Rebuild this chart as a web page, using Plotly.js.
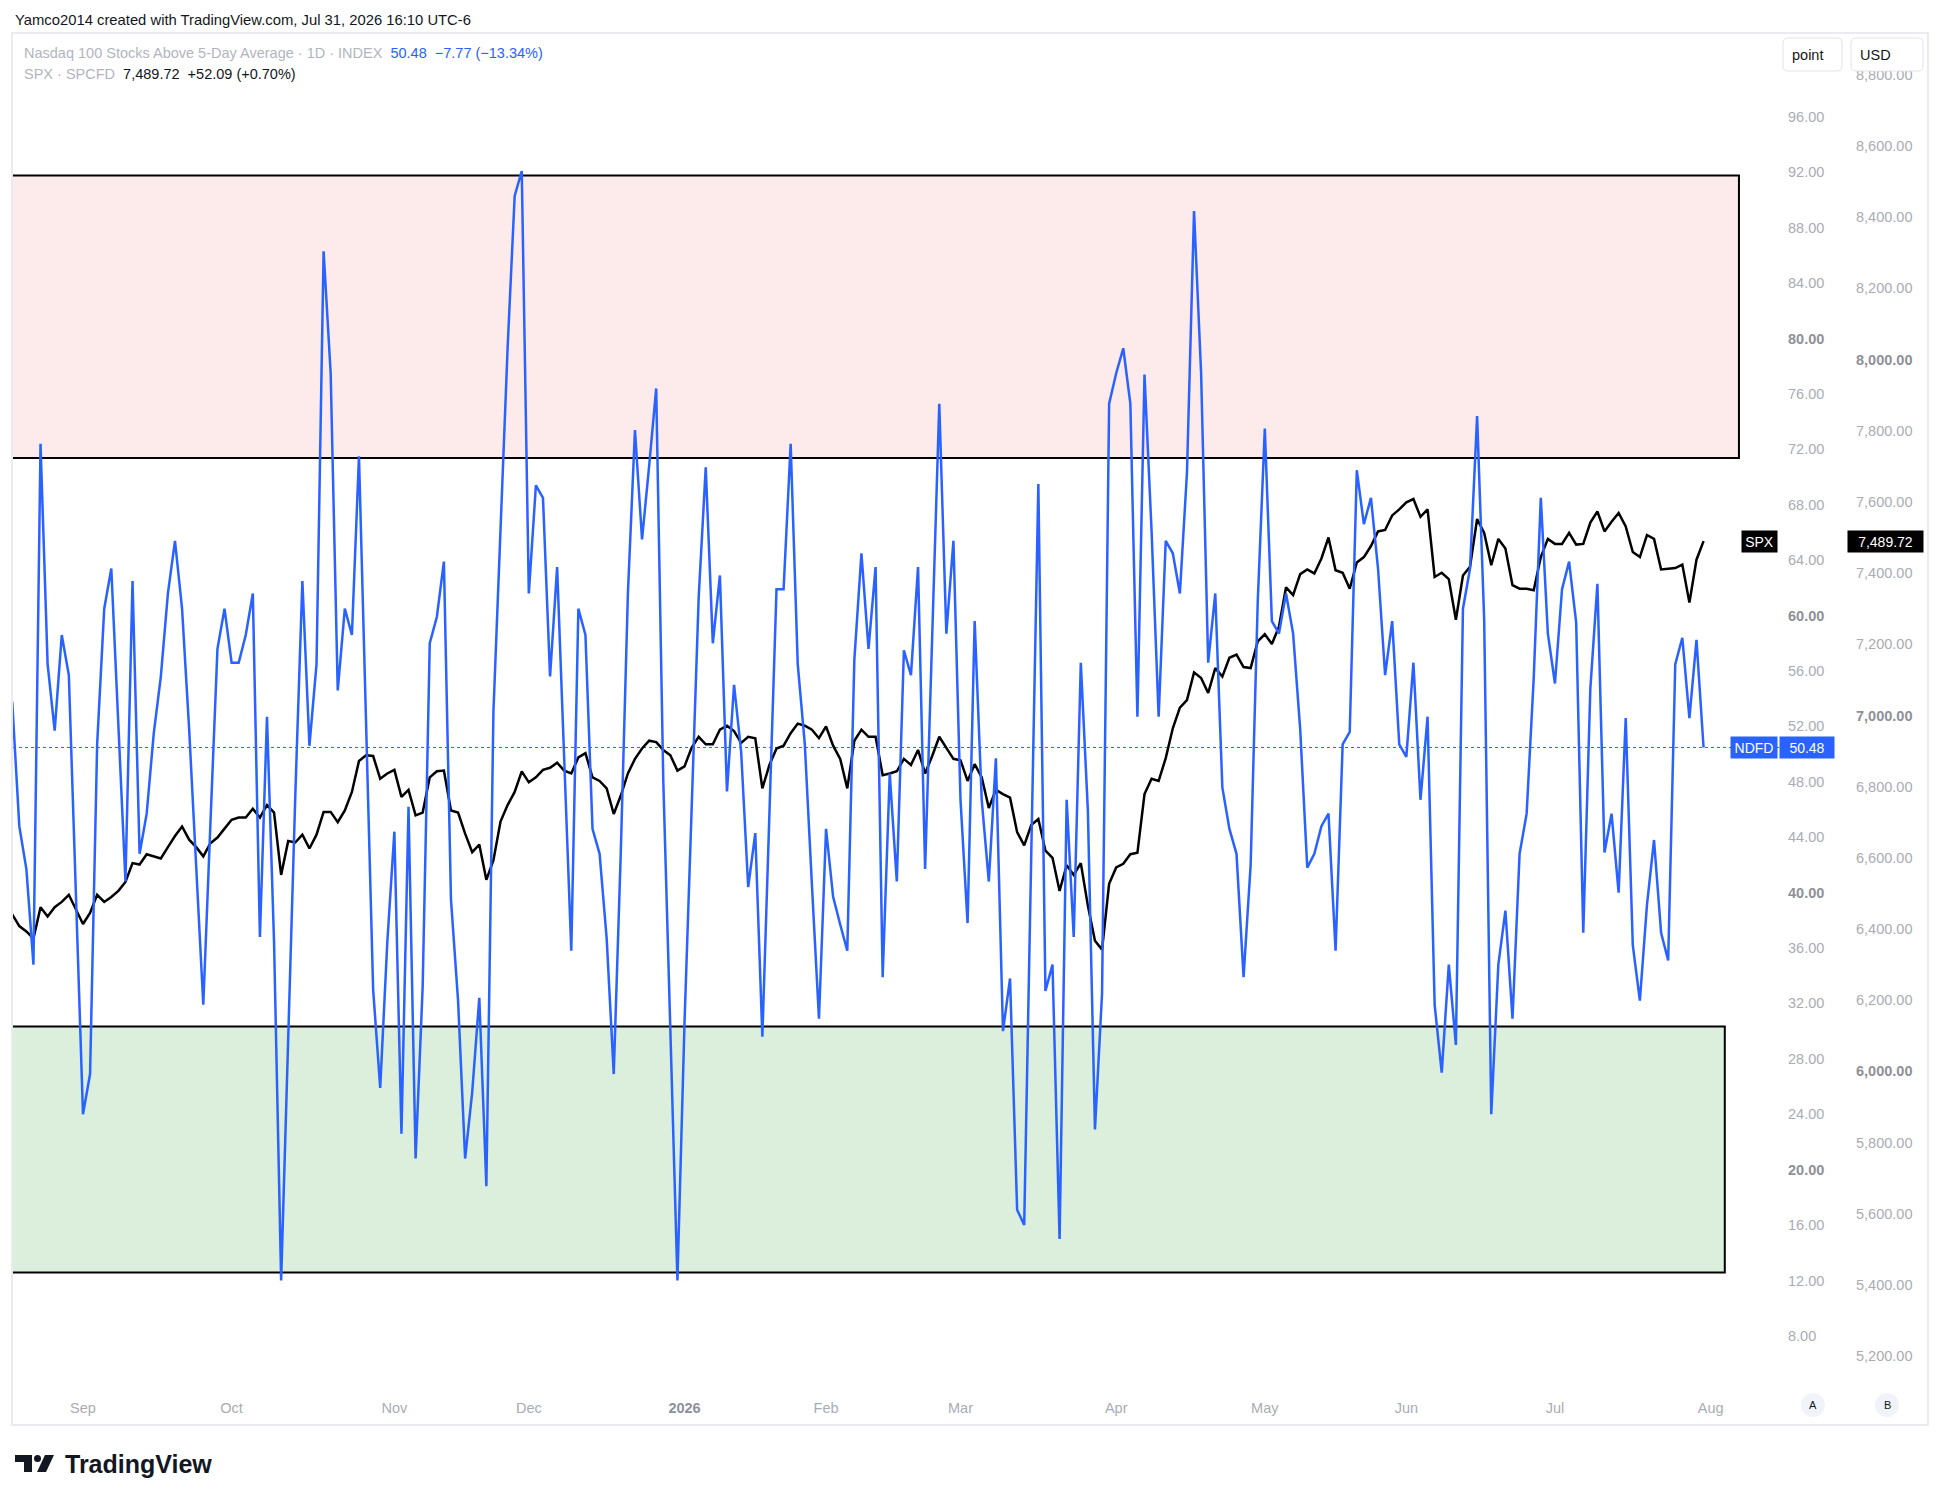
<!DOCTYPE html>
<html><head><meta charset="utf-8">
<script src="https://cdn.plot.ly/plotly-3.0.1.min.js"></script>
<style>html,body{margin:0;padding:0;background:#fff;}#chart{width:1941px;height:1500px;}</style>
</head><body><div id="chart"></div>
<script>
// ---------------- data ----------------
const ndfdValues = [
53.8,44.8,41.7,34.8,72.4,56.5,51.7,58.6,55.7,39.9,
24.0,26.9,50.7,60.5,63.4,52.1,40.8,62.5,42.8,45.7,
51.5,55.6,61.6,65.4,60.5,51.8,41.7,31.9,44.9,57.6,
60.5,56.6,56.6,58.6,61.6,36.8,52.7,36.4,12.0,30.1,
47.0,62.5,50.6,56.5,86.3,77.5,54.6,60.5,58.6,71.5,
51.8,33.0,25.9,36.4,44.4,22.6,46.2,20.8,33.2,58.0,
59.9,63.9,39.5,32.2,20.8,25.6,32.4,18.8,53.1,66.1,
79.3,90.3,92.1,61.6,69.4,68.5,55.6,63.5,49.7,35.8,
60.5,58.6,44.6,42.8,36.7,26.9,43.0,61.6,73.4,65.5,
70.8,76.4,48.1,30.0,12.0,30.6,46.5,61.3,70.7,58.0,
62.9,47.3,55.0,50.2,40.4,44.3,29.6,45.7,61.9,61.9,
72.4,56.5,50.7,40.6,30.9,44.6,39.7,37.7,35.8,56.8,
64.5,57.6,63.5,33.9,48.6,40.8,57.5,55.7,63.5,41.7,
59.2,75.3,58.7,65.4,46.7,37.8,59.6,46.7,40.8,49.7,
30.0,33.8,17.1,16.0,42.8,69.5,32.9,34.8,15.0,46.7,
36.8,56.6,45.9,22.9,32.7,75.3,77.5,79.3,75.3,52.7,
77.4,66.1,52.7,65.4,64.5,61.6,70.3,89.2,77.5,56.6,
61.6,47.6,44.6,42.8,33.9,42.0,61.0,73.5,59.6,58.7,
61.6,58.7,51.8,41.8,42.8,44.8,45.7,35.8,50.7,51.6,
70.5,66.6,68.5,63.4,55.7,59.6,50.7,49.8,56.6,46.7,
52.7,31.9,27.0,34.8,29.0,60.5,63.4,74.4,59.7,24.0,
34.8,38.7,30.9,42.8,45.7,55.5,68.5,58.7,55.1,61.9,
63.9,59.5,37.1,54.7,62.3,42.9,45.7,40.0,52.6,36.2,
32.2,39.1,43.8,37.1,35.1,56.5,58.4,52.6,58.25,50.48
];
const spxValues = [
6441,6408,6393,6373,6461,6435,6461,6476,6496,6455,
6414,6445,6496,6476,6490,6507,6532,6585,6581,6610,
6604,6598,6630,6661,6688,6651,6630,6604,6641,6657,
6682,6707,6713,6713,6738,6713,6748,6727,6552,6647,
6643,6665,6626,6665,6729,6729,6700,6733,6785,6872,
6888,6886,6822,6837,6847,6771,6791,6719,6727,6826,
6843,6845,6733,6727,6668,6616,6637,6538,6593,6702,
6748,6785,6843,6812,6826,6847,6853,6867,6845,6837,
6882,6894,6826,6816,6795,6723,6775,6837,6878,6907,
6929,6925,6903,6888,6845,6857,6909,6940,6919,6919,
6960,6971,6956,6923,6940,6936,6795,6861,6907,6915,
6950,6977,6971,6960,6936,6969,6915,6878,6795,6929,
6960,6940,6940,6832,6837,6843,6878,6861,6903,6837,
6886,6940,6909,6878,6874,6816,6863,6826,6740,6791,
6779,6769,6672,6635,6692,6709,6620,6600,6507,6579,
6552,6585,6465,6367,6342,6527,6573,6583,6610,6614,
6779,6822,6816,6880,6964,7022,7043,7121,7105,7063,
7133,7109,7162,7171,7136,7133,7208,7228,7201,7249,
7360,7338,7397,7410,7399,7441,7500,7408,7401,7356,
7430,7445,7476,7517,7521,7562,7579,7599,7608,7558,
7579,7389,7401,7383,7269,7393,7418,7552,7513,7422,
7496,7469,7366,7356,7356,7352,7445,7496,7482,7482,
7513,7480,7482,7542,7573,7517,7544,7569,7531,7459,
7445,7507,7496,7410,7412,7414,7424,7317,7437.63,7489.72
];
const marketHolidays = ['2025-09-01','2025-11-27','2025-12-25','2026-01-01','2026-01-19',
  '2026-02-16','2026-04-03','2026-05-25','2026-06-19','2026-07-03'];
const monthTickDates = ['2025-09-02','2025-10-01','2025-11-03','2025-12-01','2026-01-02','2026-02-02',
  '2026-03-02','2026-04-01','2026-05-01','2026-06-01','2026-07-01','2026-08-03'];
const monthTickLabels = ['Sep','Oct','Nov','Dec','2026','Feb','Mar','Apr','May','Jun','Jul','Aug'];
const ndfdTicks = [8,12,16,20,24,28,32,36,40,44,48,52,56,60,64,68,72,76,80,84,88,92,96];
const spxTicks = [5200,5400,5600,5800,6000,6200,6400,6600,6800,7000,7200,7400,7600,7800,8000,8200,8400,8600,8800];
const overboughtZone = [71.37, 91.77];
const oversoldZone = [12.58, 30.33];

// ---------------- helpers ----------------
function tradingDays(start, end, hol){
  const hs = new Set(hol), out = [];
  let t = Date.parse(start+'T00:00:00Z'); const e = Date.parse(end+'T00:00:00Z');
  while(t <= e){ const d = new Date(t), wd = d.getUTCDay(), s = d.toISOString().slice(0,10);
    if(wd!==0 && wd!==6 && !hs.has(s)) out.push(s); t += 86400000; }
  return out;
}
const seriesDates = tradingDays('2025-08-18','2026-07-31',marketHolidays);
const axisDates = tradingDays('2025-08-18','2026-08-03',marketHolidays);

const L=13, R=1779, T=34, B=1390;
const px = x => (x-L)/(R-L);
const py = y => (B-y)/(B-T);
const P = (x,y) => px(x)+','+py(y);
function roundRect(x0,y0,x1,y1,r){
  return 'M'+P(x0+r,y0)+' L'+P(x1-r,y0)+' Q'+P(x1,y0)+' '+P(x1,y0+r)+' L'+P(x1,y1-r)+' Q'+P(x1,y1)+' '+P(x1-r,y1)+
    ' L'+P(x0+r,y1)+' Q'+P(x0,y1)+' '+P(x0,y1-r)+' L'+P(x0,y0+r)+' Q'+P(x0,y0)+' '+P(x0+r,y0)+' Z';
}
const grey = '#a9acb5', greyBold = '#8d909a';
const ndfdText = ndfdTicks.map(v => v%20===0 ? '<span style="color:'+greyBold+'"><b>'+v.toFixed(2)+'</b></span>' : v.toFixed(2));
const spxText = spxTicks.map(v => { const s = v.toLocaleString('en-US',{minimumFractionDigits:2,maximumFractionDigits:2});
  return v%1000===0 ? '<span style="color:'+greyBold+'"><b>'+s+'</b></span>' : s; });
const xText = monthTickLabels.map(s => /^\d{4}$/.test(s) ? '<span style="color:'+greyBold+'"><b>'+s+'</b></span>' : s);

const lastNdfd = ndfdValues[ndfdValues.length-1];
const lastSpx = spxValues[spxValues.length-1];

const traces = [
  {x: seriesDates, y: spxValues, type:'scatter', mode:'lines', yaxis:'y', xaxis:'x',
   line:{color:'#000000', width:2.5}, hoverinfo:'skip'},
  {x: seriesDates, y: ndfdValues, type:'scatter', mode:'lines', yaxis:'y2', xaxis:'x',
   line:{color:'#2962ff', width:2.5}, hoverinfo:'skip'}
];

const fontFam = 'Liberation Sans, Arial, sans-serif';
const shapes = [
  {type:'rect', xref:'paper', yref:'paper', x0:px(12), x1:px(1928), y0:py(33), y1:py(1425),
   line:{color:'#e9ebf0', width:2}, fillcolor:'rgba(0,0,0,0)', layer:'below'},
  {type:'rect', xref:'x', yref:'y2', x0:-5, x1:244, y0:overboughtZone[0], y1:overboughtZone[1],
   fillcolor:'#fdebeb', line:{color:'#000', width:2}, layer:'below'},
  {type:'rect', xref:'x', yref:'y2', x0:-5, x1:242, y0:oversoldZone[0], y1:oversoldZone[1],
   fillcolor:'#dcefdc', line:{color:'#000', width:2}, layer:'below'},
  {type:'line', xref:'paper', yref:'y2', x0:0, x1:1, y0:lastNdfd, y1:lastNdfd,
   line:{color:'#2962ff', width:1, dash:'dot'}, layer:'below'},
  // buttons
  {type:'path', xref:'paper', yref:'paper', path:roundRect(1783,38,1842,71,5), fillcolor:'#fff', line:{color:'#e0e3eb', width:1}, layer:'above'},
  {type:'path', xref:'paper', yref:'paper', path:roundRect(1851,38,1923,71,5), fillcolor:'#fff', line:{color:'#e0e3eb', width:1}, layer:'above'},
  // A / B circles
  {type:'circle', xref:'paper', yref:'paper', x0:px(1801), x1:px(1825), y0:py(1393), y1:py(1417), fillcolor:'#f0f3fa', line:{width:0}, layer:'above'},
  {type:'circle', xref:'paper', yref:'paper', x0:px(1875), x1:px(1899), y0:py(1393), y1:py(1417), fillcolor:'#f0f3fa', line:{width:0}, layer:'above'},
  // TradingView logo
  {type:'path', xref:'paper', yref:'paper', path:'M'+P(15,1455)+' L'+P(32,1455)+' L'+P(32,1472)+' L'+P(24,1472)+' L'+P(24,1462)+' L'+P(15,1462)+' Z',
   fillcolor:'#131722', line:{width:0}, layer:'above'},
  {type:'circle', xref:'paper', yref:'paper', x0:px(34), x1:px(41), y0:py(1455), y1:py(1462), fillcolor:'#131722', line:{width:0}, layer:'above'},
  {type:'path', xref:'paper', yref:'paper', path:'M'+P(45,1455)+' L'+P(54,1455)+' L'+P(46,1472)+' L'+P(37,1472)+' Z',
   fillcolor:'#131722', line:{width:0}, layer:'above'}
];

const ann = (o) => Object.assign({showarrow:false, xref:'paper', yref:'paper', font:{family:fontFam, size:14.5, color:'#131722'}}, o);
const annotations = [
  ann({x:px(13), y:py(20), xanchor:'left', yanchor:'middle', text:'Yamco2014 created with TradingView.com, Jul 31, 2026 16:10 UTC-6', font:{family:fontFam, size:14.8, color:'#131722'}}),
  ann({x:px(22), y:py(53), xanchor:'left', yanchor:'middle',
       text:'<span style="color:#b2b5be">Nasdaq 100 Stocks Above 5-Day Average · 1D · INDEX</span>\u00a0\u00a0<span style="color:#2962ff">'+lastNdfd.toFixed(2)+'\u00a0\u00a0−7.77 (−13.34%)</span>'}),
  ann({x:px(22), y:py(74), xanchor:'left', yanchor:'middle',
       text:'<span style="color:#b2b5be">SPX · SPCFD</span>\u00a0\u00a0<span style="color:#131722">'+lastSpx.toLocaleString('en-US',{minimumFractionDigits:2})+'\u00a0\u00a0+52.09 (+0.70%)</span>'}),
  ann({x:px(1808), y:py(54.5), xanchor:'center', yanchor:'middle', text:'point'}),
  ann({x:px(1858), y:py(54.5), xanchor:'left', yanchor:'middle', text:'USD'}),
  ann({x:px(1813), y:py(1405), xanchor:'center', yanchor:'middle', text:'A', font:{family:fontFam, size:11, color:'#131722'}}),
  ann({x:px(1887), y:py(1405), xanchor:'center', yanchor:'middle', text:'B', font:{family:fontFam, size:11, color:'#131722'}}),
  ann({x:px(63), y:py(1464), xanchor:'left', yanchor:'middle', text:'<b>TradingView</b>', font:{family:fontFam, size:25, color:'#131722'}}),
  // series labels on the scales
  ann({x:px(1778), yref:'y2', y:lastNdfd, xanchor:'right', yanchor:'middle', text:'NDFD', bgcolor:'#2962ff',
       width:42, height:17, borderpad:2, font:{family:fontFam, size:14, color:'#ffffff'}}),
  ann({x:px(1779), yref:'y2', y:lastNdfd, xanchor:'left', yanchor:'middle', text:lastNdfd.toFixed(2), bgcolor:'#2962ff',
       width:50, height:17, borderpad:2, font:{family:fontFam, size:14, color:'#ffffff'}}),
  ann({x:px(1778), yref:'y', y:lastSpx, xanchor:'right', yanchor:'middle', text:'SPX', bgcolor:'#000000',
       width:31, height:17, borderpad:2, font:{family:fontFam, size:14, color:'#ffffff'}}),
  ann({x:px(1847), yref:'y', y:lastSpx, xanchor:'left', yanchor:'middle', text:lastSpx.toLocaleString('en-US',{minimumFractionDigits:2}), bgcolor:'#000000',
       width:71, height:17, borderpad:2, font:{family:fontFam, size:14, color:'#ffffff'}})
];

const layout = {
  width:1941, height:1500, paper_bgcolor:'#ffffff', plot_bgcolor:'rgba(0,0,0,0)',
  margin:{l:L, r:1941-R, t:T, b:1500-B, pad:0},
  showlegend:false, font:{family:fontFam, size:14.5, color:grey},
  xaxis:{type:'category', categoryorder:'array', categoryarray:axisDates, range:[0.11, 249.66],
    tickmode:'array', tickvals:monthTickDates, ticktext:xText, ticks:'', showgrid:false, zeroline:false,
    showline:false, ticklabelstandoff:7, tickfont:{family:fontFam, size:14.5, color:grey}, automargin:false, fixedrange:true},
  yaxis:{range:[5104.6, 8914.7], side:'right', anchor:'x', tickmode:'array', tickvals:spxTicks, ticktext:spxText,
    ticks:'', showgrid:false, zeroline:false, showline:false, ticklabelstandoff:76,
    tickfont:{family:fontFam, size:14.5, color:grey}, automargin:false},
  yaxis2:{range:[4.09, 101.99], overlaying:'y', side:'right', anchor:'x', tickmode:'array', tickvals:ndfdTicks, ticktext:ndfdText,
    ticks:'', showgrid:false, zeroline:false, showline:false, ticklabelstandoff:8,
    tickfont:{family:fontFam, size:14.5, color:grey}, automargin:false},
  shapes:shapes, annotations:annotations
};
Plotly.newPlot('chart', traces, layout, {displayModeBar:false, staticPlot:true});
</script></body></html>
